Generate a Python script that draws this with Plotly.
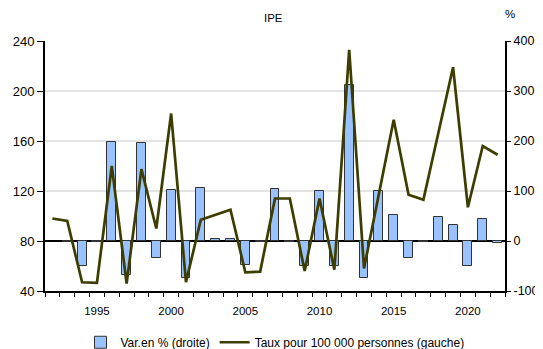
import plotly.graph_objects as go

years = list(range(1992, 2023))

# Taux pour 100 000 personnes (axe de gauche)
taux = [98, 96, 47, 46.5, 140, 46, 137.5, 90, 182, 47,
        97, 101, 105, 55, 55.5, 114, 114, 56, 114, 57,
        233, 58, 117, 177, 117, 113, 166, 219, 107, 156, 149]

# Variation en % (axe de droite)
var_pct = [None, -1, -49, -1, 198, -67, 197, -33, 102, -73,
           107, 5, 5, -47, -1, 105, -1, -49, 101, -49,
           312, -73, 100, 52, -33, -2, 48, 33, -50, 45, -3]

x_ticks = [1995, 2000, 2005, 2010, 2015, 2020]
left_ticks = [40, 80, 120, 160, 200, 240]
right_ticks = [-100, 0, 100, 200, 300, 400]
right_labels = ["-100", "0", "100", "200", "300", "400"]

font = "Liberation Sans, Arial, sans-serif"

fig = go.Figure()
fig.add_trace(go.Bar(
    x=years, y=var_pct, name="Var.en % (droite)", yaxis="y",
    width=0.6, marker=dict(color="#99c2ff", line=dict(color="#333333", width=1)),
))
fig.add_trace(go.Scatter(
    x=years, y=taux, name="Taux pour 100 000 personnes (gauche)", yaxis="y2",
    mode="lines", line=dict(color="#3d3d00", width=2.7),
))

# gridlines (no line at the top edge)
for v in [100, 200, 300]:
    fig.add_shape(type="line", xref="paper", x0=0, x1=1, yref="y", y0=v, y1=v,
                  line=dict(color="#c8c8c8", width=1), layer="below")

# page body adds an 8px offset, so the figure is 8px smaller
fig.update_layout(
    width=535, height=341,
    margin=dict(l=37, r=38, t=33, b=58, autoexpand=False),
    paper_bgcolor="white", plot_bgcolor="white",
    font=dict(family=font, size=12, color="#000000"),
    showlegend=True,
    legend=dict(orientation="h", x=0.5, xanchor="center", y=-0.205, yanchor="middle",
                font=dict(size=12), itemwidth=30, tracegroupgap=0),
    bargap=0,
    xaxis=dict(
        range=[1991.5, 2022.5], tickvals=x_ticks, ticks="outside", ticklen=8,
        tickcolor="rgba(0,0,0,0)", showgrid=False, zeroline=False, automargin=False,
        showline=True, linecolor="#000000", linewidth=2,
        tickfont=dict(size=11.5),
        minor=dict(ticks="outside", tick0=1991.5, dtick=1, ticklen=4,
                   tickcolor="#000000", showgrid=False),
    ),
    yaxis=dict(
        side="right", range=[-100, 400], tickvals=right_ticks, ticktext=right_labels,
        ticks="outside", ticklen=4, tickcolor="#000000", automargin=False,
        showline=True, linecolor="#000000", linewidth=2,
        showgrid=False, zeroline=True, zerolinecolor="#000000", zerolinewidth=1.5,
        tickfont=dict(size=12.5),
    ),
    yaxis2=dict(
        side="left", overlaying="y", range=[40, 240], tickvals=left_ticks,
        ticks="outside", ticklen=6, tickcolor="#000000", automargin=False,
        showline=True, linecolor="#000000", linewidth=2,
        showgrid=False, zeroline=False, tickfont=dict(size=13),
    ),
    annotations=[
        dict(text="IPE", xref="paper", yref="paper", x=0.497, y=1.092,
             xanchor="center", yanchor="middle", showarrow=False, font=dict(size=11.5)),
        dict(text="%", xref="paper", yref="paper", x=1.011, y=1.108,
             xanchor="center", yanchor="middle", showarrow=False, font=dict(size=11.5)),
    ],
)

fig.write_html("out.html")
